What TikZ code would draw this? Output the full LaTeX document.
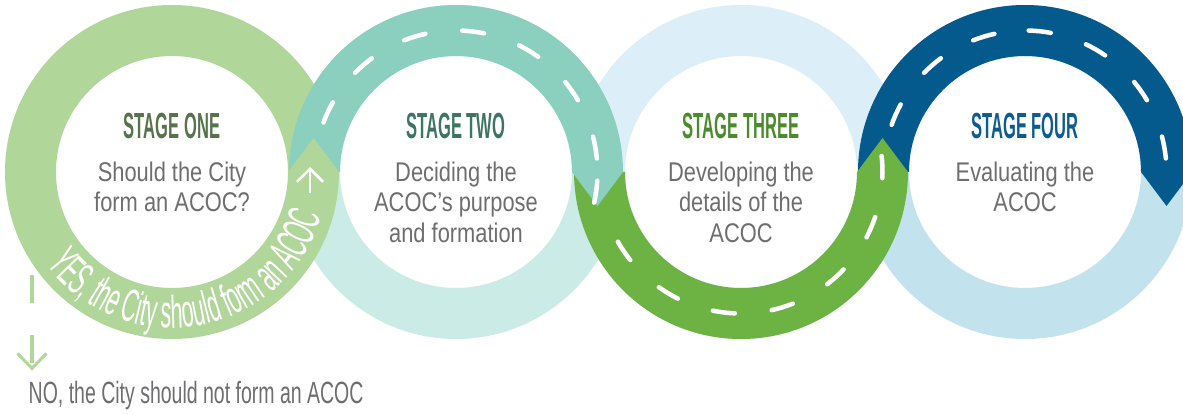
\documentclass[tikz,border=0pt]{standalone}
\usepackage{fontspec}
\setmainfont{Liberation Sans}
\newfontfamily\headfont[FakeStretch=0.455]{Liberation Sans}
\newfontfamily\bodyfont[FakeStretch=0.81]{Liberation Sans}
\newfontfamily\answerfont[FakeStretch=0.635]{Liberation Sans}
\newfontfamily\yesfont[FakeStretch=0.47]{Liberation Sans}
\usetikzlibrary{arrows.meta, calc, decorations.text, positioning}
\definecolor{ringOne}{HTML}{B1D69A}
\definecolor{ringTwoTop}{HTML}{8BCFBE}
\definecolor{ringTwoBot}{HTML}{CBEBE7}
\definecolor{ringThreeTop}{HTML}{DCEFF8}
\definecolor{ringThreeBot}{HTML}{6DB344}
\definecolor{ringFourTop}{HTML}{045A8D}
\definecolor{ringFourBot}{HTML}{C2E2EE}
\definecolor{titleOne}{HTML}{56734B}
\definecolor{titleTwo}{HTML}{3E7562}
\definecolor{titleThree}{HTML}{4A8B2C}
\definecolor{titleFour}{HTML}{0C5C91}
\definecolor{textGray}{HTML}{6E6E70}
\tikzset{
  stagetitle/.style={anchor=base, inner sep=0pt, font=\headfont\bfseries\fontsize{36.3}{40}\selectfont},
  stagetext/.style={inner sep=0pt, align=center, text=textGray, font=\bodyfont\fontsize{27}{30.5}\selectfont},
  roaddash/.style={white, line width=4.5pt, line cap=round}
}

\begin{document}
\begin{tikzpicture}[x=1pt, y=1pt, node distance=22pt, ring/.style={even odd rule}]
\clip (0,0) rectangle (1183,413);
\fill[white] (0,0) rectangle (1183,413);
\coordinate (c1) at (172,241);
\coordinate (c2) at (456,241);
\coordinate (c3) at (741,241);
\coordinate (c4) at (1025,241);
% pale rings underneath
\fill[ringTwoBot, ring] (c2) circle[radius=167] (c2) circle[radius=116];
\fill[ringThreeTop, ring] (c3) circle[radius=167] (c3) circle[radius=116];
\fill[ringFourBot, ring] (c4) circle[radius=167] (c4) circle[radius=116];
\fill[ringOne, ring] (c1) circle[radius=167] (c1) circle[radius=116];
% the road
\fill[ringFourTop] ($(c4)+(180:167)$) arc[start angle=180, end angle=0, radius=167] -- ($(c4)+(141.5,-34)$) -- ($(c4)+(0:116)$) arc[start angle=0, end angle=180, radius=116] -- cycle;
\fill[ringThreeBot] ($(c3)+(180:167)$) arc[start angle=180, end angle=360, radius=167] -- ($(c3)+(141.5,34)$) -- ($(c3)+(0:116)$) arc[start angle=360, end angle=180, radius=116] -- cycle;
\fill[ringTwoTop] ($(c2)+(180:167)$) arc[start angle=180, end angle=0, radius=167] -- ($(c2)+(141.5,-34)$) -- ($(c2)+(0:116)$) arc[start angle=0, end angle=180, radius=116] -- cycle;
\fill[ringOne] ($(c1)+(0:116)$) -- ($(c1)+(141.5,34)$) -- ($(c1)+(0:167)$) -- cycle;
\foreach \a in {155,131,107,83,59,35,10,-8}
  \draw[roaddash] ($(c2)+(\a+4.5:141.5)$) arc[start angle=\a+4.5, end angle=\a-4.5, radius=141.5];
\foreach \a in {214,239,263,287,312,337,2}
  \draw[roaddash] ($(c3)+(\a+4.5:141.5)$) arc[start angle=\a+4.5, end angle=\a-4.5, radius=141.5];
\foreach \a in {156,131,107,84,60,35,10}
  \draw[roaddash] ($(c4)+(\a+4.5:141.5)$) arc[start angle=\a+4.5, end angle=\a-4.5, radius=141.5];
% yes / no
\path[decorate, decoration={text along path, text align=center, text={|\yesfont\fontsize{46}{48}\selectfont\color{white}|YES, the City should form an ACOC}}] ($(c1)+(212:156)$) arc[start angle=212, end angle=348, radius=156];
\coordinate (yesarrow) at ($(c1)+(138,-21)$);
\draw[white, line width=2.5pt, -{Straight Barb[length=13pt, width=26pt, line width=2.5pt]}] (yesarrow) -- ++(0,26);
\coordinate (nostart) at (32,138);
\node[anchor=base west, inner sep=0pt, text=textGray, font=\answerfont\fontsize{30.7}{33}\selectfont] (no) at (28.5,10) {NO, the City should not form an ACOC};
\draw[ringOne, line width=4pt, dash pattern=on 28pt off 32pt, shorten >=10pt, -{Straight Barb[length=15pt, width=29pt, line width=3pt]}] (nostart) -- (nostart |- no.north);
% stages
\node[stagetitle, text=titleOne] (t1) at ($(c1)+(0,33)$) {STAGE ONE};
\node[stagetext, below=of t1] (b1) {Should the City\\form an ACOC?};
\node[stagetitle, text=titleTwo] (t2) at ($(c2)+(0,33)$) {STAGE TWO};
\node[stagetext, below=of t2] (b2) {Deciding the\\ACOC’s purpose\\and formation};
\node[stagetitle, text=titleThree] (t3) at ($(c3)+(0,33)$) {STAGE THREE};
\node[stagetext, below=of t3] (b3) {Developing the\\details of the\\ACOC};
\node[stagetitle, text=titleFour] (t4) at ($(c4)+(0,33)$) {STAGE FOUR};
\node[stagetext, below=of t4] (b4) {Evaluating the\\ACOC};
\end{tikzpicture}
\end{document}
